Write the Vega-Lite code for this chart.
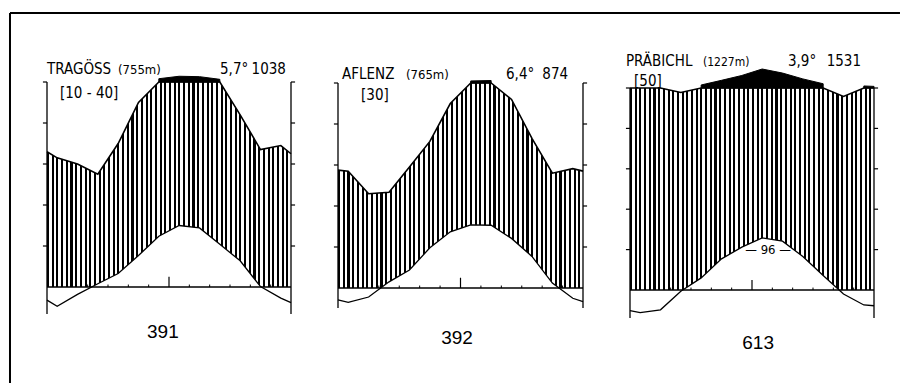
{
"$schema": "https://vega.github.io/schema/vega-lite/v6.json",
"padding": {"left": 8, "top": 11, "right": 0, "bottom": 0},
"background": "white",
"config": {"view": {"stroke": null}, "axis": {"grid": false}},
"datasets": {
"one": [{}],
"yt": [{"v":10},{"v":20},{"v":30},{"v":40},{"v":50}],
"mb": [{"b":1.5},{"b":2.5},{"b":3.5},{"b":4.5},{"b":5.5},{"b":7.5},{"b":8.5},{"b":9.5},{"b":10.5},{"b":11.5}],
"d1": [
{"m":0.5,"t":-3.2,"p":66},{"m":1,"t":-4.7,"p":63},{"m":2,"t":-1.8,"p":60},{"m":3,"t":0.8,"p":55},{"m":4,"t":3.3,"p":70},{"m":5,"t":7.7,"p":90},{"m":6,"t":12.4,"p":116},{"m":7,"t":15.0,"p":128},{"m":8,"t":14.4,"p":126},{"m":9,"t":10.4,"p":113},{"m":10,"t":6.4,"p":84},{"m":11,"t":0.1,"p":67},{"m":12,"t":-2.7,"p":69},{"m":12.5,"t":-3.8,"p":65}],
"d2": [
{"m":0.5,"t":-2.9,"p":57.5},{"m":1,"t":-3.5,"p":57},{"m":2,"t":-2.2,"p":46},{"m":3,"t":1.5,"p":46.7},{"m":4,"t":4.4,"p":59},{"m":5,"t":9.8,"p":71.5},{"m":6,"t":13.7,"p":90},{"m":7,"t":15.4,"p":110},{"m":8,"t":15.3,"p":112},{"m":9,"t":12.1,"p":92},{"m":10,"t":7.7,"p":73},{"m":11,"t":1.2,"p":56},{"m":12,"t":-2.5,"p":58.2},{"m":12.5,"t":-3.3,"p":57}],
"d3": [
{"m":0.5,"t":-5.1,"p":100},{"m":1,"t":-5.6,"p":100},{"m":2,"t":-4.9,"p":100},{"m":3,"t":-0.3,"p":97.8},{"m":4,"t":3.0,"p":115},{"m":5,"t":7.7,"p":138},{"m":6,"t":10.6,"p":162},{"m":7,"t":12.9,"p":194},{"m":8,"t":12.1,"p":174},{"m":9,"t":8.3,"p":145},{"m":10,"t":3.6,"p":121},{"m":11,"t":-1.0,"p":95.8},{"m":12,"t":-3.7,"p":110},{"m":12.5,"t":-3.9,"p":108}]
},
"spacing": 47,
"bounds": "flush",
"center": true,
"hconcat": [
{"width": 244, "height": 232,
 "resolve": {"scale": {"y": "independent"}},
 "layer": [
  {"data": {"name": "d1"},
   "mark": {"type": "area", "fill": {"gradient":"linear","x1":0,"y1":0,"x2":1,"y2":0,"stops":[{"offset":0,"color":"#000"},{"offset":0.0087,"color":"#000"},{"offset":0.0087,"color":"#fff"},{"offset":0.0192,"color":"#fff"},{"offset":0.0192,"color":"#000"},{"offset":0.0279,"color":"#000"},{"offset":0.0279,"color":"#fff"},{"offset":0.0385,"color":"#fff"},{"offset":0.0385,"color":"#000"},{"offset":0.0471,"color":"#000"},{"offset":0.0471,"color":"#fff"},{"offset":0.0577,"color":"#fff"},{"offset":0.0577,"color":"#000"},{"offset":0.0663,"color":"#000"},{"offset":0.0663,"color":"#fff"},{"offset":0.0769,"color":"#fff"},{"offset":0.0769,"color":"#000"},{"offset":0.0856,"color":"#000"},{"offset":0.0856,"color":"#fff"},{"offset":0.0962,"color":"#fff"},{"offset":0.0962,"color":"#000"},{"offset":0.1048,"color":"#000"},{"offset":0.1048,"color":"#fff"},{"offset":0.1154,"color":"#fff"},{"offset":0.1154,"color":"#000"},{"offset":0.1240,"color":"#000"},{"offset":0.1240,"color":"#fff"},{"offset":0.1346,"color":"#fff"},{"offset":0.1346,"color":"#000"},{"offset":0.1433,"color":"#000"},{"offset":0.1433,"color":"#fff"},{"offset":0.1538,"color":"#fff"},{"offset":0.1538,"color":"#000"},{"offset":0.1625,"color":"#000"},{"offset":0.1625,"color":"#fff"},{"offset":0.1731,"color":"#fff"},{"offset":0.1731,"color":"#000"},{"offset":0.1817,"color":"#000"},{"offset":0.1817,"color":"#fff"},{"offset":0.1923,"color":"#fff"},{"offset":0.1923,"color":"#000"},{"offset":0.2010,"color":"#000"},{"offset":0.2010,"color":"#fff"},{"offset":0.2115,"color":"#fff"},{"offset":0.2115,"color":"#000"},{"offset":0.2202,"color":"#000"},{"offset":0.2202,"color":"#fff"},{"offset":0.2308,"color":"#fff"},{"offset":0.2308,"color":"#000"},{"offset":0.2394,"color":"#000"},{"offset":0.2394,"color":"#fff"},{"offset":0.2500,"color":"#fff"},{"offset":0.2500,"color":"#000"},{"offset":0.2587,"color":"#000"},{"offset":0.2587,"color":"#fff"},{"offset":0.2692,"color":"#fff"},{"offset":0.2692,"color":"#000"},{"offset":0.2779,"color":"#000"},{"offset":0.2779,"color":"#fff"},{"offset":0.2885,"color":"#fff"},{"offset":0.2885,"color":"#000"},{"offset":0.2971,"color":"#000"},{"offset":0.2971,"color":"#fff"},{"offset":0.3077,"color":"#fff"},{"offset":0.3077,"color":"#000"},{"offset":0.3163,"color":"#000"},{"offset":0.3163,"color":"#fff"},{"offset":0.3269,"color":"#fff"},{"offset":0.3269,"color":"#000"},{"offset":0.3356,"color":"#000"},{"offset":0.3356,"color":"#fff"},{"offset":0.3462,"color":"#fff"},{"offset":0.3462,"color":"#000"},{"offset":0.3548,"color":"#000"},{"offset":0.3548,"color":"#fff"},{"offset":0.3654,"color":"#fff"},{"offset":0.3654,"color":"#000"},{"offset":0.3740,"color":"#000"},{"offset":0.3740,"color":"#fff"},{"offset":0.3846,"color":"#fff"},{"offset":0.3846,"color":"#000"},{"offset":0.3933,"color":"#000"},{"offset":0.3933,"color":"#fff"},{"offset":0.4038,"color":"#fff"},{"offset":0.4038,"color":"#000"},{"offset":0.4125,"color":"#000"},{"offset":0.4125,"color":"#fff"},{"offset":0.4231,"color":"#fff"},{"offset":0.4231,"color":"#000"},{"offset":0.4317,"color":"#000"},{"offset":0.4317,"color":"#fff"},{"offset":0.4423,"color":"#fff"},{"offset":0.4423,"color":"#000"},{"offset":0.4510,"color":"#000"},{"offset":0.4510,"color":"#fff"},{"offset":0.4615,"color":"#fff"},{"offset":0.4615,"color":"#000"},{"offset":0.4702,"color":"#000"},{"offset":0.4702,"color":"#fff"},{"offset":0.4808,"color":"#fff"},{"offset":0.4808,"color":"#000"},{"offset":0.4894,"color":"#000"},{"offset":0.4894,"color":"#fff"},{"offset":0.5000,"color":"#fff"},{"offset":0.5000,"color":"#000"},{"offset":0.5087,"color":"#000"},{"offset":0.5087,"color":"#fff"},{"offset":0.5192,"color":"#fff"},{"offset":0.5192,"color":"#000"},{"offset":0.5279,"color":"#000"},{"offset":0.5279,"color":"#fff"},{"offset":0.5385,"color":"#fff"},{"offset":0.5385,"color":"#000"},{"offset":0.5471,"color":"#000"},{"offset":0.5471,"color":"#fff"},{"offset":0.5577,"color":"#fff"},{"offset":0.5577,"color":"#000"},{"offset":0.5663,"color":"#000"},{"offset":0.5663,"color":"#fff"},{"offset":0.5769,"color":"#fff"},{"offset":0.5769,"color":"#000"},{"offset":0.5856,"color":"#000"},{"offset":0.5856,"color":"#fff"},{"offset":0.5962,"color":"#fff"},{"offset":0.5962,"color":"#000"},{"offset":0.6048,"color":"#000"},{"offset":0.6048,"color":"#fff"},{"offset":0.6154,"color":"#fff"},{"offset":0.6154,"color":"#000"},{"offset":0.6240,"color":"#000"},{"offset":0.6240,"color":"#fff"},{"offset":0.6346,"color":"#fff"},{"offset":0.6346,"color":"#000"},{"offset":0.6433,"color":"#000"},{"offset":0.6433,"color":"#fff"},{"offset":0.6538,"color":"#fff"},{"offset":0.6538,"color":"#000"},{"offset":0.6625,"color":"#000"},{"offset":0.6625,"color":"#fff"},{"offset":0.6731,"color":"#fff"},{"offset":0.6731,"color":"#000"},{"offset":0.6817,"color":"#000"},{"offset":0.6817,"color":"#fff"},{"offset":0.6923,"color":"#fff"},{"offset":0.6923,"color":"#000"},{"offset":0.7010,"color":"#000"},{"offset":0.7010,"color":"#fff"},{"offset":0.7115,"color":"#fff"},{"offset":0.7115,"color":"#000"},{"offset":0.7202,"color":"#000"},{"offset":0.7202,"color":"#fff"},{"offset":0.7308,"color":"#fff"},{"offset":0.7308,"color":"#000"},{"offset":0.7394,"color":"#000"},{"offset":0.7394,"color":"#fff"},{"offset":0.7500,"color":"#fff"},{"offset":0.7500,"color":"#000"},{"offset":0.7587,"color":"#000"},{"offset":0.7587,"color":"#fff"},{"offset":0.7692,"color":"#fff"},{"offset":0.7692,"color":"#000"},{"offset":0.7779,"color":"#000"},{"offset":0.7779,"color":"#fff"},{"offset":0.7885,"color":"#fff"},{"offset":0.7885,"color":"#000"},{"offset":0.7971,"color":"#000"},{"offset":0.7971,"color":"#fff"},{"offset":0.8077,"color":"#fff"},{"offset":0.8077,"color":"#000"},{"offset":0.8163,"color":"#000"},{"offset":0.8163,"color":"#fff"},{"offset":0.8269,"color":"#fff"},{"offset":0.8269,"color":"#000"},{"offset":0.8356,"color":"#000"},{"offset":0.8356,"color":"#fff"},{"offset":0.8462,"color":"#fff"},{"offset":0.8462,"color":"#000"},{"offset":0.8548,"color":"#000"},{"offset":0.8548,"color":"#fff"},{"offset":0.8654,"color":"#fff"},{"offset":0.8654,"color":"#000"},{"offset":0.8740,"color":"#000"},{"offset":0.8740,"color":"#fff"},{"offset":0.8846,"color":"#fff"},{"offset":0.8846,"color":"#000"},{"offset":0.8933,"color":"#000"},{"offset":0.8933,"color":"#fff"},{"offset":0.9038,"color":"#fff"},{"offset":0.9038,"color":"#000"},{"offset":0.9125,"color":"#000"},{"offset":0.9125,"color":"#fff"},{"offset":0.9231,"color":"#fff"},{"offset":0.9231,"color":"#000"},{"offset":0.9317,"color":"#000"},{"offset":0.9317,"color":"#fff"},{"offset":0.9423,"color":"#fff"},{"offset":0.9423,"color":"#000"},{"offset":0.9510,"color":"#000"},{"offset":0.9510,"color":"#fff"},{"offset":0.9615,"color":"#fff"},{"offset":0.9615,"color":"#000"},{"offset":0.9702,"color":"#000"},{"offset":0.9702,"color":"#fff"},{"offset":0.9808,"color":"#fff"},{"offset":0.9808,"color":"#000"},{"offset":0.9894,"color":"#000"},{"offset":0.9894,"color":"#fff"},{"offset":1,"color":"#fff"}]}},
   "encoding": {
    "x": {"field": "m", "type": "quantitative", "scale": {"domain": [0.5, 12.5], "nice": false, "zero": false}, "axis": null},
    "y": {"field": "p", "type": "quantitative", "scale": {"domain": [-13.17, 100], "nice": false, "zero": false, "clamp": true}, "axis": null},
    "y2": {"datum": 0}
   }},
  {"data": {"name": "d1"}, "mark": {"type": "area", "color": "white"},
   "encoding": {
    "x": {"field": "m", "type": "quantitative", "scale": {"domain": [0.5, 12.5], "nice": false, "zero": false}, "axis": null},
    "y": {"field": "t", "type": "quantitative", "scale": {"domain": [-6.585, 50], "nice": false, "zero": false}, "axis": null},
    "y2": {"datum": 0}
   }},
  {"data": {"name": "d1"}, "mark": {"type": "line", "color": "black", "strokeWidth": 1.6},
   "encoding": {
    "x": {"field": "m", "type": "quantitative", "scale": {"domain": [0.5, 12.5], "nice": false, "zero": false}, "axis": null},
    "y": {"field": "p", "type": "quantitative", "scale": {"domain": [-13.17, 100], "nice": false, "zero": false, "clamp": true}, "axis": null}
   }},
  {"data": {"name": "d1"}, "transform": [{"filter": {"field": "p", "gte": 100}}],
   "mark": {"type": "area", "color": "black", "stroke": "black", "strokeWidth": 1},
   "encoding": {
    "x": {"field": "m", "type": "quantitative", "scale": {"domain": [0.5, 12.5], "nice": false, "zero": false}, "axis": null},
    "y": {"field": "p", "type": "quantitative", "scale": {"domain": [-1031.7, 100], "nice": false, "zero": false}, "axis": null},
    "y2": {"datum": 100}
   }},
  {"data": {"name": "d1"}, "mark": {"type": "line", "color": "black", "strokeWidth": 1.3},
   "encoding": {
    "x": {"field": "m", "type": "quantitative", "scale": {"domain": [0.5, 12.5], "nice": false, "zero": false}, "axis": null},
    "y": {"field": "t", "type": "quantitative", "scale": {"domain": [-6.585, 50], "nice": false, "zero": false}, "axis": null}
   }},
  {"data": {"name": "one"}, "mark": {"type": "rule", "color": "black", "strokeWidth": 1.3},
   "encoding": {"x": {"datum": 0.5, "type": "quantitative", "axis": null}, "y": {"datum": -6.6, "type": "quantitative", "scale": {"domain": [-6.585, 50], "nice": false, "zero": false}, "axis": null}, "y2": {"datum": 50}}},
  {"data": {"name": "one"}, "mark": {"type": "rule", "color": "black", "strokeWidth": 1.3},
   "encoding": {"x": {"datum": 12.5, "type": "quantitative", "axis": null}, "y": {"datum": -6.6, "type": "quantitative", "scale": {"domain": [-6.585, 50], "nice": false, "zero": false}, "axis": null}, "y2": {"datum": 50}}},
  {"data": {"name": "one"}, "mark": {"type": "rule", "color": "black", "strokeWidth": 1.3},
   "encoding": {"x": {"datum": 0.5, "type": "quantitative", "axis": null}, "x2": {"datum": 12.5}, "y": {"datum": 0, "type": "quantitative", "scale": {"domain": [-6.585, 50], "nice": false, "zero": false}, "axis": null}}},
  {"data": {"name": "yt"}, "mark": {"type": "rule", "color": "black", "strokeWidth": 1.2},
   "encoding": {"x": {"datum": 0.3, "type": "quantitative", "axis": null}, "x2": {"datum": 0.5}, "y": {"field": "v", "type": "quantitative", "scale": {"domain": [-6.585, 50], "nice": false, "zero": false}, "axis": null}}},
  {"data": {"name": "yt"}, "mark": {"type": "rule", "color": "black", "strokeWidth": 1.2},
   "encoding": {"x": {"datum": 12.5, "type": "quantitative", "axis": null}, "x2": {"datum": 12.7}, "y": {"field": "v", "type": "quantitative", "scale": {"domain": [-6.585, 50], "nice": false, "zero": false}, "axis": null}}},
  {"data": {"name": "mb"}, "mark": {"type": "rule", "color": "black", "strokeWidth": 1},
   "encoding": {"x": {"field": "b", "type": "quantitative", "axis": null}, "y": {"datum": 0, "type": "quantitative", "scale": {"domain": [-6.585, 50], "nice": false, "zero": false}, "axis": null}, "y2": {"datum": 0.6}}},
  {"data": {"name": "one"}, "mark": {"type": "rule", "color": "black", "strokeWidth": 1.2},
   "encoding": {"x": {"datum": 6.5, "type": "quantitative", "axis": null}, "y": {"datum": 0, "type": "quantitative", "scale": {"domain": [-6.585, 50], "nice": false, "zero": false}, "axis": null}, "y2": {"datum": 2.5}}},
  {"data": {"name": "one"}, "mark": {"type": "rule", "color": "black", "strokeWidth": 2},
   "encoding": {"x": {"datum": -1.32, "type": "quantitative", "axis": null}, "y": {"datum": 66.83, "type": "quantitative", "scale": {"domain": [-6.585, 50], "nice": false, "zero": false}, "axis": null}, "y2": {"datum": -23.4}}},
  {"data": {"name": "one"}, "mark": {"type": "rule", "color": "black", "strokeWidth": 2},
   "encoding": {"x": {"datum": -1.32, "type": "quantitative", "axis": null}, "x2": {"datum": 42.45}, "y": {"datum": 66.83, "type": "quantitative", "scale": {"domain": [-6.585, 50], "nice": false, "zero": false}, "axis": null}}},
  {"data": {"name": "one"}, "mark": {"type": "text", "text": "TRAGÖSS", "font": "Liberation Sans Narrow, DejaVu Sans Condensed, Liberation Sans, sans-serif", "fontSize": 15, "align": "left", "baseline": "alphabetic"},
   "encoding": {"x": {"datum": 0.5, "type": "quantitative", "axis": null}, "y": {"datum": 51.95, "type": "quantitative", "scale": {"domain": [-6.585, 50], "nice": false, "zero": false}, "axis": null}}},
  {"data": {"name": "one"}, "mark": {"type": "text", "text": "(755m)", "font": "Liberation Sans Narrow, DejaVu Sans Condensed, Liberation Sans, sans-serif", "fontSize": 13, "align": "left", "baseline": "alphabetic"},
   "encoding": {"x": {"datum": 3.99, "type": "quantitative", "axis": null}, "y": {"datum": 51.95, "type": "quantitative", "scale": {"domain": [-6.585, 50], "nice": false, "zero": false}, "axis": null}}},
  {"data": {"name": "one"}, "mark": {"type": "text", "text": "5,7°", "font": "Liberation Sans Narrow, DejaVu Sans Condensed, Liberation Sans, sans-serif", "fontSize": 15, "align": "left", "baseline": "alphabetic"},
   "encoding": {"x": {"datum": 9.01, "type": "quantitative", "axis": null}, "y": {"datum": 51.95, "type": "quantitative", "scale": {"domain": [-6.585, 50], "nice": false, "zero": false}, "axis": null}}},
  {"data": {"name": "one"}, "mark": {"type": "text", "text": "1038", "font": "Liberation Sans Narrow, DejaVu Sans Condensed, Liberation Sans, sans-serif", "fontSize": 15, "align": "right", "baseline": "alphabetic"},
   "encoding": {"x": {"datum": 12.25, "type": "quantitative", "axis": null}, "y": {"datum": 51.95, "type": "quantitative", "scale": {"domain": [-6.585, 50], "nice": false, "zero": false}, "axis": null}}},
  {"data": {"name": "one"}, "mark": {"type": "text", "text": "[10 - 40]", "font": "Liberation Sans Narrow, DejaVu Sans Condensed, Liberation Sans, sans-serif", "fontSize": 15, "align": "left", "baseline": "alphabetic"},
   "encoding": {"x": {"datum": 1.14, "type": "quantitative", "axis": null}, "y": {"datum": 46.1, "type": "quantitative", "scale": {"domain": [-6.585, 50], "nice": false, "zero": false}, "axis": null}}},
  {"data": {"name": "one"}, "mark": {"type": "text", "text": "391", "font": "Liberation Sans, Arial, sans-serif", "fontSize": 19, "align": "center", "baseline": "alphabetic"},
   "encoding": {"x": {"datum": 6.2, "type": "quantitative", "axis": null}, "y": {"datum": -12.44, "type": "quantitative", "scale": {"domain": [-6.585, 50], "nice": false, "zero": false}, "axis": null}}}
 ]
},
{"width": 245, "height": 230,
 "resolve": {"scale": {"y": "independent"}},
 "layer": [
  {"data": {"name": "d2"},
   "mark": {"type": "area", "fill": {"gradient":"linear","x1":0,"y1":0,"x2":1,"y2":0,"stops":[{"offset":0,"color":"#000"},{"offset":0.0087,"color":"#000"},{"offset":0.0087,"color":"#fff"},{"offset":0.0192,"color":"#fff"},{"offset":0.0192,"color":"#000"},{"offset":0.0279,"color":"#000"},{"offset":0.0279,"color":"#fff"},{"offset":0.0385,"color":"#fff"},{"offset":0.0385,"color":"#000"},{"offset":0.0471,"color":"#000"},{"offset":0.0471,"color":"#fff"},{"offset":0.0577,"color":"#fff"},{"offset":0.0577,"color":"#000"},{"offset":0.0663,"color":"#000"},{"offset":0.0663,"color":"#fff"},{"offset":0.0769,"color":"#fff"},{"offset":0.0769,"color":"#000"},{"offset":0.0856,"color":"#000"},{"offset":0.0856,"color":"#fff"},{"offset":0.0962,"color":"#fff"},{"offset":0.0962,"color":"#000"},{"offset":0.1048,"color":"#000"},{"offset":0.1048,"color":"#fff"},{"offset":0.1154,"color":"#fff"},{"offset":0.1154,"color":"#000"},{"offset":0.1240,"color":"#000"},{"offset":0.1240,"color":"#fff"},{"offset":0.1346,"color":"#fff"},{"offset":0.1346,"color":"#000"},{"offset":0.1433,"color":"#000"},{"offset":0.1433,"color":"#fff"},{"offset":0.1538,"color":"#fff"},{"offset":0.1538,"color":"#000"},{"offset":0.1625,"color":"#000"},{"offset":0.1625,"color":"#fff"},{"offset":0.1731,"color":"#fff"},{"offset":0.1731,"color":"#000"},{"offset":0.1817,"color":"#000"},{"offset":0.1817,"color":"#fff"},{"offset":0.1923,"color":"#fff"},{"offset":0.1923,"color":"#000"},{"offset":0.2010,"color":"#000"},{"offset":0.2010,"color":"#fff"},{"offset":0.2115,"color":"#fff"},{"offset":0.2115,"color":"#000"},{"offset":0.2202,"color":"#000"},{"offset":0.2202,"color":"#fff"},{"offset":0.2308,"color":"#fff"},{"offset":0.2308,"color":"#000"},{"offset":0.2394,"color":"#000"},{"offset":0.2394,"color":"#fff"},{"offset":0.2500,"color":"#fff"},{"offset":0.2500,"color":"#000"},{"offset":0.2587,"color":"#000"},{"offset":0.2587,"color":"#fff"},{"offset":0.2692,"color":"#fff"},{"offset":0.2692,"color":"#000"},{"offset":0.2779,"color":"#000"},{"offset":0.2779,"color":"#fff"},{"offset":0.2885,"color":"#fff"},{"offset":0.2885,"color":"#000"},{"offset":0.2971,"color":"#000"},{"offset":0.2971,"color":"#fff"},{"offset":0.3077,"color":"#fff"},{"offset":0.3077,"color":"#000"},{"offset":0.3163,"color":"#000"},{"offset":0.3163,"color":"#fff"},{"offset":0.3269,"color":"#fff"},{"offset":0.3269,"color":"#000"},{"offset":0.3356,"color":"#000"},{"offset":0.3356,"color":"#fff"},{"offset":0.3462,"color":"#fff"},{"offset":0.3462,"color":"#000"},{"offset":0.3548,"color":"#000"},{"offset":0.3548,"color":"#fff"},{"offset":0.3654,"color":"#fff"},{"offset":0.3654,"color":"#000"},{"offset":0.3740,"color":"#000"},{"offset":0.3740,"color":"#fff"},{"offset":0.3846,"color":"#fff"},{"offset":0.3846,"color":"#000"},{"offset":0.3933,"color":"#000"},{"offset":0.3933,"color":"#fff"},{"offset":0.4038,"color":"#fff"},{"offset":0.4038,"color":"#000"},{"offset":0.4125,"color":"#000"},{"offset":0.4125,"color":"#fff"},{"offset":0.4231,"color":"#fff"},{"offset":0.4231,"color":"#000"},{"offset":0.4317,"color":"#000"},{"offset":0.4317,"color":"#fff"},{"offset":0.4423,"color":"#fff"},{"offset":0.4423,"color":"#000"},{"offset":0.4510,"color":"#000"},{"offset":0.4510,"color":"#fff"},{"offset":0.4615,"color":"#fff"},{"offset":0.4615,"color":"#000"},{"offset":0.4702,"color":"#000"},{"offset":0.4702,"color":"#fff"},{"offset":0.4808,"color":"#fff"},{"offset":0.4808,"color":"#000"},{"offset":0.4894,"color":"#000"},{"offset":0.4894,"color":"#fff"},{"offset":0.5000,"color":"#fff"},{"offset":0.5000,"color":"#000"},{"offset":0.5087,"color":"#000"},{"offset":0.5087,"color":"#fff"},{"offset":0.5192,"color":"#fff"},{"offset":0.5192,"color":"#000"},{"offset":0.5279,"color":"#000"},{"offset":0.5279,"color":"#fff"},{"offset":0.5385,"color":"#fff"},{"offset":0.5385,"color":"#000"},{"offset":0.5471,"color":"#000"},{"offset":0.5471,"color":"#fff"},{"offset":0.5577,"color":"#fff"},{"offset":0.5577,"color":"#000"},{"offset":0.5663,"color":"#000"},{"offset":0.5663,"color":"#fff"},{"offset":0.5769,"color":"#fff"},{"offset":0.5769,"color":"#000"},{"offset":0.5856,"color":"#000"},{"offset":0.5856,"color":"#fff"},{"offset":0.5962,"color":"#fff"},{"offset":0.5962,"color":"#000"},{"offset":0.6048,"color":"#000"},{"offset":0.6048,"color":"#fff"},{"offset":0.6154,"color":"#fff"},{"offset":0.6154,"color":"#000"},{"offset":0.6240,"color":"#000"},{"offset":0.6240,"color":"#fff"},{"offset":0.6346,"color":"#fff"},{"offset":0.6346,"color":"#000"},{"offset":0.6433,"color":"#000"},{"offset":0.6433,"color":"#fff"},{"offset":0.6538,"color":"#fff"},{"offset":0.6538,"color":"#000"},{"offset":0.6625,"color":"#000"},{"offset":0.6625,"color":"#fff"},{"offset":0.6731,"color":"#fff"},{"offset":0.6731,"color":"#000"},{"offset":0.6817,"color":"#000"},{"offset":0.6817,"color":"#fff"},{"offset":0.6923,"color":"#fff"},{"offset":0.6923,"color":"#000"},{"offset":0.7010,"color":"#000"},{"offset":0.7010,"color":"#fff"},{"offset":0.7115,"color":"#fff"},{"offset":0.7115,"color":"#000"},{"offset":0.7202,"color":"#000"},{"offset":0.7202,"color":"#fff"},{"offset":0.7308,"color":"#fff"},{"offset":0.7308,"color":"#000"},{"offset":0.7394,"color":"#000"},{"offset":0.7394,"color":"#fff"},{"offset":0.7500,"color":"#fff"},{"offset":0.7500,"color":"#000"},{"offset":0.7587,"color":"#000"},{"offset":0.7587,"color":"#fff"},{"offset":0.7692,"color":"#fff"},{"offset":0.7692,"color":"#000"},{"offset":0.7779,"color":"#000"},{"offset":0.7779,"color":"#fff"},{"offset":0.7885,"color":"#fff"},{"offset":0.7885,"color":"#000"},{"offset":0.7971,"color":"#000"},{"offset":0.7971,"color":"#fff"},{"offset":0.8077,"color":"#fff"},{"offset":0.8077,"color":"#000"},{"offset":0.8163,"color":"#000"},{"offset":0.8163,"color":"#fff"},{"offset":0.8269,"color":"#fff"},{"offset":0.8269,"color":"#000"},{"offset":0.8356,"color":"#000"},{"offset":0.8356,"color":"#fff"},{"offset":0.8462,"color":"#fff"},{"offset":0.8462,"color":"#000"},{"offset":0.8548,"color":"#000"},{"offset":0.8548,"color":"#fff"},{"offset":0.8654,"color":"#fff"},{"offset":0.8654,"color":"#000"},{"offset":0.8740,"color":"#000"},{"offset":0.8740,"color":"#fff"},{"offset":0.8846,"color":"#fff"},{"offset":0.8846,"color":"#000"},{"offset":0.8933,"color":"#000"},{"offset":0.8933,"color":"#fff"},{"offset":0.9038,"color":"#fff"},{"offset":0.9038,"color":"#000"},{"offset":0.9125,"color":"#000"},{"offset":0.9125,"color":"#fff"},{"offset":0.9231,"color":"#fff"},{"offset":0.9231,"color":"#000"},{"offset":0.9317,"color":"#000"},{"offset":0.9317,"color":"#fff"},{"offset":0.9423,"color":"#fff"},{"offset":0.9423,"color":"#000"},{"offset":0.9510,"color":"#000"},{"offset":0.9510,"color":"#fff"},{"offset":0.9615,"color":"#fff"},{"offset":0.9615,"color":"#000"},{"offset":0.9702,"color":"#000"},{"offset":0.9702,"color":"#fff"},{"offset":0.9808,"color":"#fff"},{"offset":0.9808,"color":"#000"},{"offset":0.9894,"color":"#000"},{"offset":0.9894,"color":"#fff"},{"offset":1,"color":"#fff"}]}},
   "encoding": {
    "x": {"field": "m", "type": "quantitative", "scale": {"domain": [0.5, 12.5], "nice": false, "zero": false}, "axis": null},
    "y": {"field": "p", "type": "quantitative", "scale": {"domain": [-12.195, 100], "nice": false, "zero": false, "clamp": true}, "axis": null},
    "y2": {"datum": 0}
   }},
  {"data": {"name": "d2"}, "mark": {"type": "area", "color": "white"},
   "encoding": {
    "x": {"field": "m", "type": "quantitative", "scale": {"domain": [0.5, 12.5], "nice": false, "zero": false}, "axis": null},
    "y": {"field": "t", "type": "quantitative", "scale": {"domain": [-6.098, 50], "nice": false, "zero": false}, "axis": null},
    "y2": {"datum": 0}
   }},
  {"data": {"name": "d2"}, "mark": {"type": "line", "color": "black", "strokeWidth": 1.6},
   "encoding": {
    "x": {"field": "m", "type": "quantitative", "scale": {"domain": [0.5, 12.5], "nice": false, "zero": false}, "axis": null},
    "y": {"field": "p", "type": "quantitative", "scale": {"domain": [-12.195, 100], "nice": false, "zero": false, "clamp": true}, "axis": null}
   }},
  {"data": {"name": "d2"}, "transform": [{"filter": {"field": "p", "gte": 100}}],
   "mark": {"type": "area", "color": "black", "stroke": "black", "strokeWidth": 1},
   "encoding": {
    "x": {"field": "m", "type": "quantitative", "scale": {"domain": [0.5, 12.5], "nice": false, "zero": false}, "axis": null},
    "y": {"field": "p", "type": "quantitative", "scale": {"domain": [-1021.95, 100], "nice": false, "zero": false}, "axis": null},
    "y2": {"datum": 100}
   }},
  {"data": {"name": "d2"}, "mark": {"type": "line", "color": "black", "strokeWidth": 1.3},
   "encoding": {
    "x": {"field": "m", "type": "quantitative", "scale": {"domain": [0.5, 12.5], "nice": false, "zero": false}, "axis": null},
    "y": {"field": "t", "type": "quantitative", "scale": {"domain": [-6.098, 50], "nice": false, "zero": false}, "axis": null}
   }},
  {"data": {"name": "one"}, "mark": {"type": "rule", "color": "black", "strokeWidth": 1.3},
   "encoding": {"x": {"datum": 0.5, "type": "quantitative", "axis": null}, "y": {"datum": -4.9, "type": "quantitative", "scale": {"domain": [-6.098, 50], "nice": false, "zero": false}, "axis": null}, "y2": {"datum": 50}}},
  {"data": {"name": "one"}, "mark": {"type": "rule", "color": "black", "strokeWidth": 1.3},
   "encoding": {"x": {"datum": 12.5, "type": "quantitative", "axis": null}, "y": {"datum": -4.9, "type": "quantitative", "scale": {"domain": [-6.098, 50], "nice": false, "zero": false}, "axis": null}, "y2": {"datum": 50}}},
  {"data": {"name": "one"}, "mark": {"type": "rule", "color": "black", "strokeWidth": 1.3},
   "encoding": {"x": {"datum": 0.5, "type": "quantitative", "axis": null}, "x2": {"datum": 12.5}, "y": {"datum": 0, "type": "quantitative", "scale": {"domain": [-6.098, 50], "nice": false, "zero": false}, "axis": null}}},
  {"data": {"name": "yt"}, "mark": {"type": "rule", "color": "black", "strokeWidth": 1.2},
   "encoding": {"x": {"datum": 0.3, "type": "quantitative", "axis": null}, "x2": {"datum": 0.5}, "y": {"field": "v", "type": "quantitative", "scale": {"domain": [-6.098, 50], "nice": false, "zero": false}, "axis": null}}},
  {"data": {"name": "yt"}, "mark": {"type": "rule", "color": "black", "strokeWidth": 1.2},
   "encoding": {"x": {"datum": 12.5, "type": "quantitative", "axis": null}, "x2": {"datum": 12.7}, "y": {"field": "v", "type": "quantitative", "scale": {"domain": [-6.098, 50], "nice": false, "zero": false}, "axis": null}}},
  {"data": {"name": "mb"}, "mark": {"type": "rule", "color": "black", "strokeWidth": 1},
   "encoding": {"x": {"field": "b", "type": "quantitative", "axis": null}, "y": {"datum": 0, "type": "quantitative", "scale": {"domain": [-6.098, 50], "nice": false, "zero": false}, "axis": null}, "y2": {"datum": 0.6}}},
  {"data": {"name": "one"}, "mark": {"type": "rule", "color": "black", "strokeWidth": 1.2},
   "encoding": {"x": {"datum": 6.5, "type": "quantitative", "axis": null}, "y": {"datum": 0, "type": "quantitative", "scale": {"domain": [-6.098, 50], "nice": false, "zero": false}, "axis": null}, "y2": {"datum": 2.5}}},
  {"data": {"name": "one"}, "mark": {"type": "text", "text": "AFLENZ", "font": "Liberation Sans Narrow, DejaVu Sans Condensed, Liberation Sans, sans-serif", "fontSize": 15, "align": "left", "baseline": "alphabetic"},
   "encoding": {"x": {"datum": 0.7, "type": "quantitative", "axis": null}, "y": {"datum": 50.98, "type": "quantitative", "scale": {"domain": [-6.098, 50], "nice": false, "zero": false}, "axis": null}}},
  {"data": {"name": "one"}, "mark": {"type": "text", "text": "(765m)", "font": "Liberation Sans Narrow, DejaVu Sans Condensed, Liberation Sans, sans-serif", "fontSize": 13, "align": "left", "baseline": "alphabetic"},
   "encoding": {"x": {"datum": 3.83, "type": "quantitative", "axis": null}, "y": {"datum": 50.98, "type": "quantitative", "scale": {"domain": [-6.098, 50], "nice": false, "zero": false}, "axis": null}}},
  {"data": {"name": "one"}, "mark": {"type": "text", "text": "6,4°", "font": "Liberation Sans Narrow, DejaVu Sans Condensed, Liberation Sans, sans-serif", "fontSize": 15, "align": "left", "baseline": "alphabetic"},
   "encoding": {"x": {"datum": 8.73, "type": "quantitative", "axis": null}, "y": {"datum": 50.98, "type": "quantitative", "scale": {"domain": [-6.098, 50], "nice": false, "zero": false}, "axis": null}}},
  {"data": {"name": "one"}, "mark": {"type": "text", "text": "874", "font": "Liberation Sans Narrow, DejaVu Sans Condensed, Liberation Sans, sans-serif", "fontSize": 15, "align": "right", "baseline": "alphabetic"},
   "encoding": {"x": {"datum": 11.77, "type": "quantitative", "axis": null}, "y": {"datum": 50.98, "type": "quantitative", "scale": {"domain": [-6.098, 50], "nice": false, "zero": false}, "axis": null}}},
  {"data": {"name": "one"}, "mark": {"type": "text", "text": "[30]", "font": "Liberation Sans Narrow, DejaVu Sans Condensed, Liberation Sans, sans-serif", "fontSize": 15, "align": "left", "baseline": "alphabetic"},
   "encoding": {"x": {"datum": 1.63, "type": "quantitative", "axis": null}, "y": {"datum": 45.85, "type": "quantitative", "scale": {"domain": [-6.098, 50], "nice": false, "zero": false}, "axis": null}}},
  {"data": {"name": "one"}, "mark": {"type": "text", "text": "392", "font": "Liberation Sans, Arial, sans-serif", "fontSize": 19, "align": "center", "baseline": "alphabetic"},
   "encoding": {"x": {"datum": 6.33, "type": "quantitative", "axis": null}, "y": {"datum": -13.66, "type": "quantitative", "scale": {"domain": [-6.098, 50], "nice": false, "zero": false}, "axis": null}}}
 ]
},
{"width": 244, "height": 220,
 "resolve": {"scale": {"y": "independent"}},
 "layer": [
  {"data": {"name": "d3"},
   "mark": {"type": "area", "fill": {"gradient":"linear","x1":0,"y1":0,"x2":1,"y2":0,"stops":[{"offset":0,"color":"#000"},{"offset":0.0087,"color":"#000"},{"offset":0.0087,"color":"#fff"},{"offset":0.0192,"color":"#fff"},{"offset":0.0192,"color":"#000"},{"offset":0.0279,"color":"#000"},{"offset":0.0279,"color":"#fff"},{"offset":0.0385,"color":"#fff"},{"offset":0.0385,"color":"#000"},{"offset":0.0471,"color":"#000"},{"offset":0.0471,"color":"#fff"},{"offset":0.0577,"color":"#fff"},{"offset":0.0577,"color":"#000"},{"offset":0.0663,"color":"#000"},{"offset":0.0663,"color":"#fff"},{"offset":0.0769,"color":"#fff"},{"offset":0.0769,"color":"#000"},{"offset":0.0856,"color":"#000"},{"offset":0.0856,"color":"#fff"},{"offset":0.0962,"color":"#fff"},{"offset":0.0962,"color":"#000"},{"offset":0.1048,"color":"#000"},{"offset":0.1048,"color":"#fff"},{"offset":0.1154,"color":"#fff"},{"offset":0.1154,"color":"#000"},{"offset":0.1240,"color":"#000"},{"offset":0.1240,"color":"#fff"},{"offset":0.1346,"color":"#fff"},{"offset":0.1346,"color":"#000"},{"offset":0.1433,"color":"#000"},{"offset":0.1433,"color":"#fff"},{"offset":0.1538,"color":"#fff"},{"offset":0.1538,"color":"#000"},{"offset":0.1625,"color":"#000"},{"offset":0.1625,"color":"#fff"},{"offset":0.1731,"color":"#fff"},{"offset":0.1731,"color":"#000"},{"offset":0.1817,"color":"#000"},{"offset":0.1817,"color":"#fff"},{"offset":0.1923,"color":"#fff"},{"offset":0.1923,"color":"#000"},{"offset":0.2010,"color":"#000"},{"offset":0.2010,"color":"#fff"},{"offset":0.2115,"color":"#fff"},{"offset":0.2115,"color":"#000"},{"offset":0.2202,"color":"#000"},{"offset":0.2202,"color":"#fff"},{"offset":0.2308,"color":"#fff"},{"offset":0.2308,"color":"#000"},{"offset":0.2394,"color":"#000"},{"offset":0.2394,"color":"#fff"},{"offset":0.2500,"color":"#fff"},{"offset":0.2500,"color":"#000"},{"offset":0.2587,"color":"#000"},{"offset":0.2587,"color":"#fff"},{"offset":0.2692,"color":"#fff"},{"offset":0.2692,"color":"#000"},{"offset":0.2779,"color":"#000"},{"offset":0.2779,"color":"#fff"},{"offset":0.2885,"color":"#fff"},{"offset":0.2885,"color":"#000"},{"offset":0.2971,"color":"#000"},{"offset":0.2971,"color":"#fff"},{"offset":0.3077,"color":"#fff"},{"offset":0.3077,"color":"#000"},{"offset":0.3163,"color":"#000"},{"offset":0.3163,"color":"#fff"},{"offset":0.3269,"color":"#fff"},{"offset":0.3269,"color":"#000"},{"offset":0.3356,"color":"#000"},{"offset":0.3356,"color":"#fff"},{"offset":0.3462,"color":"#fff"},{"offset":0.3462,"color":"#000"},{"offset":0.3548,"color":"#000"},{"offset":0.3548,"color":"#fff"},{"offset":0.3654,"color":"#fff"},{"offset":0.3654,"color":"#000"},{"offset":0.3740,"color":"#000"},{"offset":0.3740,"color":"#fff"},{"offset":0.3846,"color":"#fff"},{"offset":0.3846,"color":"#000"},{"offset":0.3933,"color":"#000"},{"offset":0.3933,"color":"#fff"},{"offset":0.4038,"color":"#fff"},{"offset":0.4038,"color":"#000"},{"offset":0.4125,"color":"#000"},{"offset":0.4125,"color":"#fff"},{"offset":0.4231,"color":"#fff"},{"offset":0.4231,"color":"#000"},{"offset":0.4317,"color":"#000"},{"offset":0.4317,"color":"#fff"},{"offset":0.4423,"color":"#fff"},{"offset":0.4423,"color":"#000"},{"offset":0.4510,"color":"#000"},{"offset":0.4510,"color":"#fff"},{"offset":0.4615,"color":"#fff"},{"offset":0.4615,"color":"#000"},{"offset":0.4702,"color":"#000"},{"offset":0.4702,"color":"#fff"},{"offset":0.4808,"color":"#fff"},{"offset":0.4808,"color":"#000"},{"offset":0.4894,"color":"#000"},{"offset":0.4894,"color":"#fff"},{"offset":0.5000,"color":"#fff"},{"offset":0.5000,"color":"#000"},{"offset":0.5087,"color":"#000"},{"offset":0.5087,"color":"#fff"},{"offset":0.5192,"color":"#fff"},{"offset":0.5192,"color":"#000"},{"offset":0.5279,"color":"#000"},{"offset":0.5279,"color":"#fff"},{"offset":0.5385,"color":"#fff"},{"offset":0.5385,"color":"#000"},{"offset":0.5471,"color":"#000"},{"offset":0.5471,"color":"#fff"},{"offset":0.5577,"color":"#fff"},{"offset":0.5577,"color":"#000"},{"offset":0.5663,"color":"#000"},{"offset":0.5663,"color":"#fff"},{"offset":0.5769,"color":"#fff"},{"offset":0.5769,"color":"#000"},{"offset":0.5856,"color":"#000"},{"offset":0.5856,"color":"#fff"},{"offset":0.5962,"color":"#fff"},{"offset":0.5962,"color":"#000"},{"offset":0.6048,"color":"#000"},{"offset":0.6048,"color":"#fff"},{"offset":0.6154,"color":"#fff"},{"offset":0.6154,"color":"#000"},{"offset":0.6240,"color":"#000"},{"offset":0.6240,"color":"#fff"},{"offset":0.6346,"color":"#fff"},{"offset":0.6346,"color":"#000"},{"offset":0.6433,"color":"#000"},{"offset":0.6433,"color":"#fff"},{"offset":0.6538,"color":"#fff"},{"offset":0.6538,"color":"#000"},{"offset":0.6625,"color":"#000"},{"offset":0.6625,"color":"#fff"},{"offset":0.6731,"color":"#fff"},{"offset":0.6731,"color":"#000"},{"offset":0.6817,"color":"#000"},{"offset":0.6817,"color":"#fff"},{"offset":0.6923,"color":"#fff"},{"offset":0.6923,"color":"#000"},{"offset":0.7010,"color":"#000"},{"offset":0.7010,"color":"#fff"},{"offset":0.7115,"color":"#fff"},{"offset":0.7115,"color":"#000"},{"offset":0.7202,"color":"#000"},{"offset":0.7202,"color":"#fff"},{"offset":0.7308,"color":"#fff"},{"offset":0.7308,"color":"#000"},{"offset":0.7394,"color":"#000"},{"offset":0.7394,"color":"#fff"},{"offset":0.7500,"color":"#fff"},{"offset":0.7500,"color":"#000"},{"offset":0.7587,"color":"#000"},{"offset":0.7587,"color":"#fff"},{"offset":0.7692,"color":"#fff"},{"offset":0.7692,"color":"#000"},{"offset":0.7779,"color":"#000"},{"offset":0.7779,"color":"#fff"},{"offset":0.7885,"color":"#fff"},{"offset":0.7885,"color":"#000"},{"offset":0.7971,"color":"#000"},{"offset":0.7971,"color":"#fff"},{"offset":0.8077,"color":"#fff"},{"offset":0.8077,"color":"#000"},{"offset":0.8163,"color":"#000"},{"offset":0.8163,"color":"#fff"},{"offset":0.8269,"color":"#fff"},{"offset":0.8269,"color":"#000"},{"offset":0.8356,"color":"#000"},{"offset":0.8356,"color":"#fff"},{"offset":0.8462,"color":"#fff"},{"offset":0.8462,"color":"#000"},{"offset":0.8548,"color":"#000"},{"offset":0.8548,"color":"#fff"},{"offset":0.8654,"color":"#fff"},{"offset":0.8654,"color":"#000"},{"offset":0.8740,"color":"#000"},{"offset":0.8740,"color":"#fff"},{"offset":0.8846,"color":"#fff"},{"offset":0.8846,"color":"#000"},{"offset":0.8933,"color":"#000"},{"offset":0.8933,"color":"#fff"},{"offset":0.9038,"color":"#fff"},{"offset":0.9038,"color":"#000"},{"offset":0.9125,"color":"#000"},{"offset":0.9125,"color":"#fff"},{"offset":0.9231,"color":"#fff"},{"offset":0.9231,"color":"#000"},{"offset":0.9317,"color":"#000"},{"offset":0.9317,"color":"#fff"},{"offset":0.9423,"color":"#fff"},{"offset":0.9423,"color":"#000"},{"offset":0.9510,"color":"#000"},{"offset":0.9510,"color":"#fff"},{"offset":0.9615,"color":"#fff"},{"offset":0.9615,"color":"#000"},{"offset":0.9702,"color":"#000"},{"offset":0.9702,"color":"#fff"},{"offset":0.9808,"color":"#fff"},{"offset":0.9808,"color":"#000"},{"offset":0.9894,"color":"#000"},{"offset":0.9894,"color":"#fff"},{"offset":1,"color":"#fff"}]}},
   "encoding": {
    "x": {"field": "m", "type": "quantitative", "scale": {"domain": [0.5, 12.5], "nice": false, "zero": false}, "axis": null},
    "y": {"field": "p", "type": "quantitative", "scale": {"domain": [-8.911, 100], "nice": false, "zero": false, "clamp": true}, "axis": null},
    "y2": {"datum": 0}
   }},
  {"data": {"name": "d3"}, "mark": {"type": "area", "color": "white"},
   "encoding": {
    "x": {"field": "m", "type": "quantitative", "scale": {"domain": [0.5, 12.5], "nice": false, "zero": false}, "axis": null},
    "y": {"field": "t", "type": "quantitative", "scale": {"domain": [-4.455, 50], "nice": false, "zero": false}, "axis": null},
    "y2": {"datum": 0}
   }},
  {"data": {"name": "d3"}, "mark": {"type": "line", "color": "black", "strokeWidth": 1.6},
   "encoding": {
    "x": {"field": "m", "type": "quantitative", "scale": {"domain": [0.5, 12.5], "nice": false, "zero": false}, "axis": null},
    "y": {"field": "p", "type": "quantitative", "scale": {"domain": [-8.911, 100], "nice": false, "zero": false, "clamp": true}, "axis": null}
   }},
  {"data": {"name": "d3"}, "transform": [{"filter": {"field": "m", "range": [4, 10]}}],
   "mark": {"type": "area", "color": "black", "stroke": "black", "strokeWidth": 1},
   "encoding": {
    "x": {"field": "m", "type": "quantitative", "scale": {"domain": [0.5, 12.5], "nice": false, "zero": false}, "axis": null},
    "y": {"field": "p", "type": "quantitative", "scale": {"domain": [-989.11, 100], "nice": false, "zero": false}, "axis": null},
    "y2": {"datum": 100}
   }},
  {"data": {"name": "d3"}, "transform": [{"filter": {"field": "m", "range": [12, 12.5]}}],
   "mark": {"type": "area", "color": "black", "stroke": "black", "strokeWidth": 1},
   "encoding": {
    "x": {"field": "m", "type": "quantitative", "scale": {"domain": [0.5, 12.5], "nice": false, "zero": false}, "axis": null},
    "y": {"field": "p", "type": "quantitative", "scale": {"domain": [-989.11, 100], "nice": false, "zero": false}, "axis": null},
    "y2": {"datum": 100}
   }},
  {"data": {"name": "d3"}, "mark": {"type": "line", "color": "black", "strokeWidth": 1.3},
   "encoding": {
    "x": {"field": "m", "type": "quantitative", "scale": {"domain": [0.5, 12.5], "nice": false, "zero": false}, "axis": null},
    "y": {"field": "t", "type": "quantitative", "scale": {"domain": [-4.455, 50], "nice": false, "zero": false}, "axis": null}
   }},
  {"data": {"name": "one"}, "mark": {"type": "rule", "color": "black", "strokeWidth": 1.3},
   "encoding": {"x": {"datum": 0.5, "type": "quantitative", "axis": null}, "y": {"datum": -6.9, "type": "quantitative", "scale": {"domain": [-4.455, 50], "nice": false, "zero": false}, "axis": null}, "y2": {"datum": 50}}},
  {"data": {"name": "one"}, "mark": {"type": "rule", "color": "black", "strokeWidth": 1.3},
   "encoding": {"x": {"datum": 12.5, "type": "quantitative", "axis": null}, "y": {"datum": -6.9, "type": "quantitative", "scale": {"domain": [-4.455, 50], "nice": false, "zero": false}, "axis": null}, "y2": {"datum": 50}}},
  {"data": {"name": "one"}, "mark": {"type": "rule", "color": "black", "strokeWidth": 1.3},
   "encoding": {"x": {"datum": 0.5, "type": "quantitative", "axis": null}, "x2": {"datum": 12.5}, "y": {"datum": 0, "type": "quantitative", "scale": {"domain": [-4.455, 50], "nice": false, "zero": false}, "axis": null}}},
  {"data": {"name": "yt"}, "mark": {"type": "rule", "color": "black", "strokeWidth": 1.2},
   "encoding": {"x": {"datum": 0.3, "type": "quantitative", "axis": null}, "x2": {"datum": 0.5}, "y": {"field": "v", "type": "quantitative", "scale": {"domain": [-4.455, 50], "nice": false, "zero": false}, "axis": null}}},
  {"data": {"name": "yt"}, "mark": {"type": "rule", "color": "black", "strokeWidth": 1.2},
   "encoding": {"x": {"datum": 12.5, "type": "quantitative", "axis": null}, "x2": {"datum": 12.7}, "y": {"field": "v", "type": "quantitative", "scale": {"domain": [-4.455, 50], "nice": false, "zero": false}, "axis": null}}},
  {"data": {"name": "mb"}, "mark": {"type": "rule", "color": "black", "strokeWidth": 1},
   "encoding": {"x": {"field": "b", "type": "quantitative", "axis": null}, "y": {"datum": 0, "type": "quantitative", "scale": {"domain": [-4.455, 50], "nice": false, "zero": false}, "axis": null}, "y2": {"datum": 0.6}}},
  {"data": {"name": "one"}, "mark": {"type": "rule", "color": "black", "strokeWidth": 1.2},
   "encoding": {"x": {"datum": 6.5, "type": "quantitative", "axis": null}, "y": {"datum": 0, "type": "quantitative", "scale": {"domain": [-4.455, 50], "nice": false, "zero": false}, "axis": null}, "y2": {"datum": 2.5}}},
  {"data": {"name": "one"}, "mark": {"type": "text", "text": "PRÄBICHL", "font": "Liberation Sans Narrow, DejaVu Sans Condensed, Liberation Sans, sans-serif", "fontSize": 15, "align": "left", "baseline": "alphabetic"},
   "encoding": {"x": {"datum": 0.3, "type": "quantitative", "axis": null}, "y": {"datum": 55.45, "type": "quantitative", "scale": {"domain": [-4.455, 50], "nice": false, "zero": false}, "axis": null}}},
  {"data": {"name": "one"}, "mark": {"type": "text", "text": "(1227m)", "font": "Liberation Sans Narrow, DejaVu Sans Condensed, Liberation Sans, sans-serif", "fontSize": 12, "align": "left", "baseline": "alphabetic"},
   "encoding": {"x": {"datum": 4.09, "type": "quantitative", "axis": null}, "y": {"datum": 55.45, "type": "quantitative", "scale": {"domain": [-4.455, 50], "nice": false, "zero": false}, "axis": null}}},
  {"data": {"name": "one"}, "mark": {"type": "text", "text": "3,9°", "font": "Liberation Sans Narrow, DejaVu Sans Condensed, Liberation Sans, sans-serif", "fontSize": 15, "align": "left", "baseline": "alphabetic"},
   "encoding": {"x": {"datum": 8.27, "type": "quantitative", "axis": null}, "y": {"datum": 55.45, "type": "quantitative", "scale": {"domain": [-4.455, 50], "nice": false, "zero": false}, "axis": null}}},
  {"data": {"name": "one"}, "mark": {"type": "text", "text": "1531", "font": "Liberation Sans Narrow, DejaVu Sans Condensed, Liberation Sans, sans-serif", "fontSize": 15, "align": "right", "baseline": "alphabetic"},
   "encoding": {"x": {"datum": 11.86, "type": "quantitative", "axis": null}, "y": {"datum": 55.45, "type": "quantitative", "scale": {"domain": [-4.455, 50], "nice": false, "zero": false}, "axis": null}}},
  {"data": {"name": "one"}, "mark": {"type": "text", "text": "[50]", "font": "Liberation Sans Narrow, DejaVu Sans Condensed, Liberation Sans, sans-serif", "fontSize": 15, "align": "left", "baseline": "alphabetic"},
   "encoding": {"x": {"datum": 0.7, "type": "quantitative", "axis": null}, "y": {"datum": 50.5, "type": "quantitative", "scale": {"domain": [-4.455, 50], "nice": false, "zero": false}, "axis": null}}},
  {"data": {"name": "one"}, "mark": {"type": "text", "text": "— 96 —", "font": "Liberation Sans Narrow, DejaVu Sans Condensed, Liberation Sans, sans-serif", "fontSize": 13, "align": "center", "baseline": "middle"},
   "encoding": {"x": {"datum": 7.29, "type": "quantitative", "axis": null}, "y": {"datum": 9.9, "type": "quantitative", "scale": {"domain": [-4.455, 50], "nice": false, "zero": false}, "axis": null}}},
  {"data": {"name": "one"}, "mark": {"type": "text", "text": "613", "font": "Liberation Sans, Arial, sans-serif", "fontSize": 19, "align": "center", "baseline": "alphabetic"},
   "encoding": {"x": {"datum": 6.8, "type": "quantitative", "axis": null}, "y": {"datum": -14.6, "type": "quantitative", "scale": {"domain": [-4.455, 50], "nice": false, "zero": false}, "axis": null}}}
 ]
}
]
}
